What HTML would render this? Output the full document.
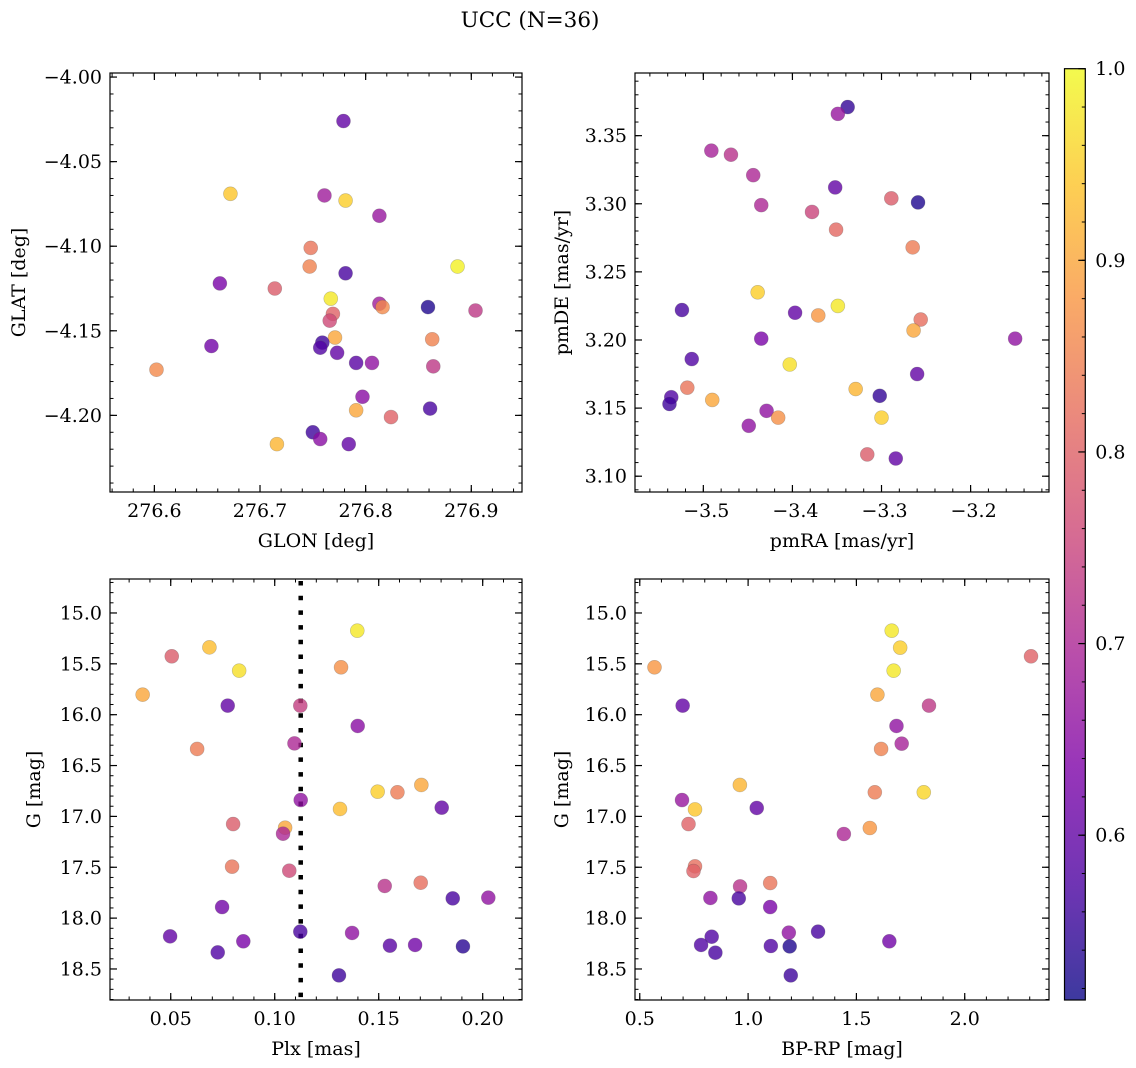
<!DOCTYPE html>
<html><head><meta charset="utf-8"><style>
html,body{margin:0;padding:0;background:#fff;}
svg{display:block;font-family:"DejaVu Serif","Liberation Serif",serif;}
</style></head><body>
<svg id="fig" width="1136" height="1068" viewBox="0 0 1136 1068" xmlns="http://www.w3.org/2000/svg">
<defs><linearGradient id="cbg" x1="0" y1="1" x2="0" y2="0">
<stop offset="0" stop-color="#0d0887"/><stop offset="0.125" stop-color="#4c02a1"/><stop offset="0.25" stop-color="#7e03a8"/><stop offset="0.375" stop-color="#a92395"/><stop offset="0.5" stop-color="#cc4778"/><stop offset="0.625" stop-color="#e56b5d"/><stop offset="0.75" stop-color="#f89441"/><stop offset="0.875" stop-color="#fdc328"/><stop offset="1" stop-color="#f0f921"/></linearGradient></defs>
<text x="530" y="27" font-size="21.5" text-anchor="middle">UCC (N=36)</text>
</svg>
<script>
// ---- data ----
const glon=[276.779,276.672,276.761,276.781,276.813,276.748,276.747,276.781,276.887,276.662,276.714,276.767,276.813,276.816,276.859,276.904,276.769,276.766,276.771,276.863,276.759,276.757,276.773,276.654,276.791,276.806,276.602,276.864,276.797,276.791,276.861,276.824,276.750,276.757,276.784,276.716];
const glat=[-4.026,-4.069,-4.070,-4.073,-4.082,-4.101,-4.112,-4.116,-4.112,-4.122,-4.125,-4.131,-4.134,-4.136,-4.136,-4.138,-4.140,-4.144,-4.154,-4.155,-4.157,-4.160,-4.163,-4.159,-4.169,-4.169,-4.173,-4.171,-4.189,-4.197,-4.196,-4.201,-4.210,-4.214,-4.217,-4.217];
const probA=[0.60,0.94,0.68,0.95,0.67,0.83,0.85,0.57,0.99,0.63,0.79,0.98,0.68,0.86,0.53,0.73,0.80,0.76,0.90,0.85,0.56,0.58,0.60,0.62,0.59,0.66,0.86,0.73,0.65,0.90,0.57,0.80,0.56,0.65,0.60,0.92];
const pmra=[-3.338,-3.349,-3.491,-3.469,-3.444,-3.352,-3.289,-3.259,-3.435,-3.378,-3.351,-3.265,-3.439,-3.524,-3.397,-3.371,-3.349,-3.256,-3.264,-3.150,-3.435,-3.513,-3.403,-3.260,-3.518,-3.329,-3.302,-3.536,-3.538,-3.490,-3.429,-3.416,-3.300,-3.449,-3.316,-3.284];
const pmde=[3.371,3.366,3.339,3.336,3.321,3.312,3.304,3.301,3.299,3.294,3.281,3.268,3.235,3.222,3.220,3.218,3.225,3.215,3.207,3.201,3.201,3.186,3.182,3.175,3.165,3.164,3.159,3.158,3.153,3.156,3.148,3.143,3.143,3.137,3.116,3.113];
const probB=[0.55,0.67,0.69,0.72,0.70,0.60,0.79,0.53,0.70,0.75,0.81,0.84,0.95,0.57,0.60,0.88,0.98,0.82,0.90,0.66,0.63,0.58,0.97,0.60,0.83,0.92,0.55,0.58,0.56,0.90,0.66,0.87,0.95,0.66,0.79,0.60];
const plx=[0.1397,0.0686,0.0505,0.0829,0.1319,0.0365,0.0774,0.1123,0.1399,0.1095,0.0627,0.1495,0.1590,0.1705,0.1125,0.1314,0.1803,0.0800,0.1050,0.1040,0.0795,0.1070,0.1529,0.1702,0.1856,0.2027,0.0747,0.1123,0.1372,0.0497,0.0849,0.0726,0.1554,0.1675,0.1905,0.1309];
const gmagC=[15.174,15.338,15.426,15.567,15.534,15.803,15.911,15.911,16.111,16.282,16.337,16.757,16.763,16.691,16.839,16.927,16.914,17.075,17.111,17.170,17.494,17.534,17.684,17.652,17.806,17.799,17.891,18.133,18.146,18.179,18.228,18.337,18.271,18.264,18.278,18.563];
const probC=[0.98,0.93,0.79,0.97,0.87,0.90,0.60,0.74,0.65,0.70,0.84,0.95,0.84,0.90,0.66,0.93,0.60,0.79,0.90,0.70,0.83,0.76,0.72,0.82,0.57,0.66,0.62,0.57,0.66,0.60,0.63,0.58,0.59,0.62,0.54,0.56];
const bprp=[1.663,1.702,2.306,0.568,1.672,1.597,0.698,1.835,1.685,1.709,1.614,0.962,1.585,1.811,0.695,0.755,1.040,0.725,1.442,1.562,0.755,0.748,0.963,1.102,0.826,0.957,1.102,1.188,1.323,0.832,1.652,0.783,1.105,1.192,0.849,1.197];
const gmagD=[15.174,15.341,15.426,15.534,15.567,15.803,15.911,15.911,16.111,16.285,16.337,16.691,16.763,16.763,16.839,16.931,16.917,17.075,17.173,17.114,17.491,17.537,17.688,17.655,17.802,17.806,17.891,18.143,18.133,18.183,18.228,18.264,18.274,18.278,18.340,18.563];
const probD=[0.98,0.95,0.80,0.88,0.98,0.90,0.60,0.73,0.66,0.69,0.85,0.92,0.84,0.96,0.67,0.94,0.60,0.80,0.70,0.88,0.82,0.80,0.72,0.83,0.66,0.57,0.63,0.66,0.57,0.58,0.62,0.58,0.58,0.53,0.57,0.56];
const plxLine=0.1125;
const ticksA_x=[276.6,276.7,276.8,276.9], ticksA_y=[-4.00,-4.05,-4.10,-4.15,-4.20];
const ticksB_x=[-3.5,-3.4,-3.3,-3.2], ticksB_y=[3.10,3.15,3.20,3.25,3.30,3.35];
const ticksC_x=[0.05,0.10,0.15,0.20], ticksG=[15.0,15.5,16.0,16.5,17.0,17.5,18.0,18.5];
const ticksD_x=[0.5,1.0,1.5,2.0];
const cbTicks=[0.6,0.7,0.8,0.9,1.0];
const vmin=0.514, vmax=1.0;

const NS="http://www.w3.org/2000/svg";
const svg=document.getElementById('fig');
const FS=19;
function mk(tag,attrs,parent){const e=document.createElementNS(NS,tag);for(const k in attrs)e.setAttribute(k,attrs[k]);(parent||svg).appendChild(e);return e;}
const stops=[[0,[13,8,135]],[0.125,[76,2,161]],[0.25,[126,3,168]],[0.375,[169,35,149]],[0.5,[204,71,120]],[0.625,[229,107,93]],[0.75,[248,148,65]],[0.875,[253,195,40]],[1,[240,249,33]]];
function plasma(t){t=Math.max(0,Math.min(1,t));for(let i=1;i<stops.length;i++){if(t<=stops[i][0]){const a=stops[i-1],b=stops[i];const f=(t-a[0])/(b[0]-a[0]);const c=a[1].map((v,j)=>Math.round(v+(b[1][j]-v)*f));return `rgb(${c[0]},${c[1]},${c[2]})`;}}return 'rgb(240,249,33)';}
function fmt(v,d){const s=Math.abs(v).toFixed(d);return (v<0?'\u2212':'')+s;}

function panel(o){
  const g=mk('g',{});
  
  
  const sx=v=>o.x0+(v-o.xd[0])/(o.xd[1]-o.xd[0])*(o.x1-o.x0);
  const sy=v=>o.y0+(v-o.yd[0])/(o.yd[1]-o.yd[0])*(o.y1-o.y0);
  const xlo=Math.min(...o.xd),xhi=Math.max(...o.xd),ylo=Math.min(...o.yd),yhi=Math.max(...o.yd);
  for(let v=Math.ceil(xlo/o.xm-1e-6)*o.xm;v<=xhi+1e-9;v+=o.xm){const X=sx(v);mk('line',{x1:X,x2:X,y1:o.y1,y2:o.y1-3.5,stroke:'#000','stroke-width':1},g);mk('line',{x1:X,x2:X,y1:o.y0,y2:o.y0+3.5,stroke:'#000','stroke-width':1},g);}
  for(let v=Math.ceil(ylo/o.ym-1e-6)*o.ym;v<=yhi+1e-9;v+=o.ym){const Y=sy(v);mk('line',{x1:o.x0,x2:o.x0+3.5,y1:Y,y2:Y,stroke:'#000','stroke-width':1},g);mk('line',{x1:o.x1,x2:o.x1-3.5,y1:Y,y2:Y,stroke:'#000','stroke-width':1},g);}
  o.xt.forEach(v=>{const X=sx(v);mk('line',{x1:X,x2:X,y1:o.y1,y2:o.y1-7,stroke:'#000','stroke-width':1.2},g);mk('line',{x1:X,x2:X,y1:o.y0,y2:o.y0+7,stroke:'#000','stroke-width':1.2},g);
    const t=mk('text',{x:X+(v<0?3:0),y:o.y1+25,'font-size':FS,'text-anchor':'middle'},g);t.textContent=fmt(v,o.xdp);
    });
  o.yt.forEach(v=>{const Y=sy(v);mk('line',{x1:o.x0,x2:o.x0+7,y1:Y,y2:Y,stroke:'#000','stroke-width':1.2},g);mk('line',{x1:o.x1,x2:o.x1-7,y1:Y,y2:Y,stroke:'#000','stroke-width':1.2},g);
    const t=mk('text',{x:o.x0-8,y:Y+6.5,'font-size':FS,'text-anchor':'end'},g);t.textContent=fmt(v,o.ydp);
    });
  if(o.vline!==undefined){const X=sx(o.vline);const l=mk('line',{x1:X,x2:X,y1:o.y0+2,y2:o.y1,stroke:'#000','stroke-width':4.5,'stroke-dasharray':'4.5 10.2'},g);
    }
  for(let i=0;i<o.xs.length;i++){
    const c=mk('circle',{cx:sx(o.xs[i]),cy:sy(o.ys[i]),r:7,fill:plasma((o.cs[i]-vmin)/(vmax-vmin)),'fill-opacity':0.8,stroke:'#555','stroke-opacity':0.35,'stroke-width':0.6},g);
    
    
  }
  const fr=mk('rect',{x:o.x0,y:o.y0,width:o.x1-o.x0,height:o.y1-o.y0,fill:'none',stroke:'#000','stroke-width':1.2},g);
  
  const xl=mk('text',{x:(o.x0+o.x1)/2,y:o.y1+55,'font-size':FS,'text-anchor':'middle'},g);xl.textContent=o.xlabel;
  
  const yl=mk('text',{x:0,y:0,'font-size':FS,'text-anchor':'middle',transform:`translate(${o.ylx},${(o.y0+o.y1)/2}) rotate(-90)`},g);yl.textContent=o.ylabel;
  
}
panel({name:'glon-glat-panel',x0:110,x1:522,y0:73,y1:492,xd:[276.558,276.948],yd:[-3.9976,-4.2453],xt:ticksA_x,yt:ticksA_y,xm:0.02,ym:0.01,xdp:1,ydp:2,xs:glon,ys:glat,cs:probA,xlabel:'GLON [deg]',ylabel:'GLAT [deg]',ylx:25});
panel({name:'pm-panel',x0:635,x1:1049,y0:73,y1:492,xd:[-3.5767,-3.112],yd:[3.396,3.0884],xt:ticksB_x,yt:ticksB_y,xm:0.02,ym:0.01,xdp:1,ydp:2,xs:pmra,ys:pmde,cs:probB,xlabel:'pmRA [mas/yr]',ylabel:'pmDE [mas/yr]',ylx:568});
panel({name:'plx-g-panel',x0:110,x1:522,y0:579,y1:1000,xd:[0.0208,0.2189],yd:[14.666,18.805],xt:ticksC_x,yt:ticksG,xm:0.01,ym:0.1,xdp:2,ydp:1,xs:plx,ys:gmagC,cs:probC,xlabel:'Plx [mas]',ylabel:'G [mag]',ylx:40,vline:plxLine});
panel({name:'cmd-panel',x0:635,x1:1049,y0:579,y1:1000,xd:[0.478,2.389],yd:[14.666,18.805],xt:ticksD_x,yt:ticksG,xm:0.1,ym:0.1,xdp:1,ydp:1,xs:bprp,ys:gmagD,cs:probD,xlabel:'BP-RP [mag]',ylabel:'G [mag]',ylx:568});
// colorbar
const cb=mk('g',{});


const cbx0=1064.5,cbx1=1085.3,cby0=68.7,cby1=1000;
const cy=v=>cby1-(v-vmin)/(vmax-vmin)*(cby1-cby0);
mk('rect',{x:cbx0,y:cby0,width:cbx1-cbx0,height:cby1-cby0,fill:'url(#cbg)','fill-opacity':0.8},cb);
for(let v=0.52;v<=1.0001;v+=0.02){const Y=cy(v);mk('line',{x1:cbx1,x2:cbx1-3.5,y1:Y,y2:Y,stroke:'#000','stroke-width':1},cb);}
cbTicks.forEach(v=>{const Y=cy(v);mk('line',{x1:cbx1,x2:cbx1-7,y1:Y,y2:Y,stroke:'#000','stroke-width':1.2},cb);
  const t=mk('text',{x:cbx1+10,y:Y+6.5,'font-size':FS},cb);t.textContent=v.toFixed(1);
  });
mk('rect',{x:cbx0,y:cby0,width:cbx1-cbx0,height:cby1-cby0,fill:'none',stroke:'#000','stroke-width':1.2},cb);
</script>
</body></html>
